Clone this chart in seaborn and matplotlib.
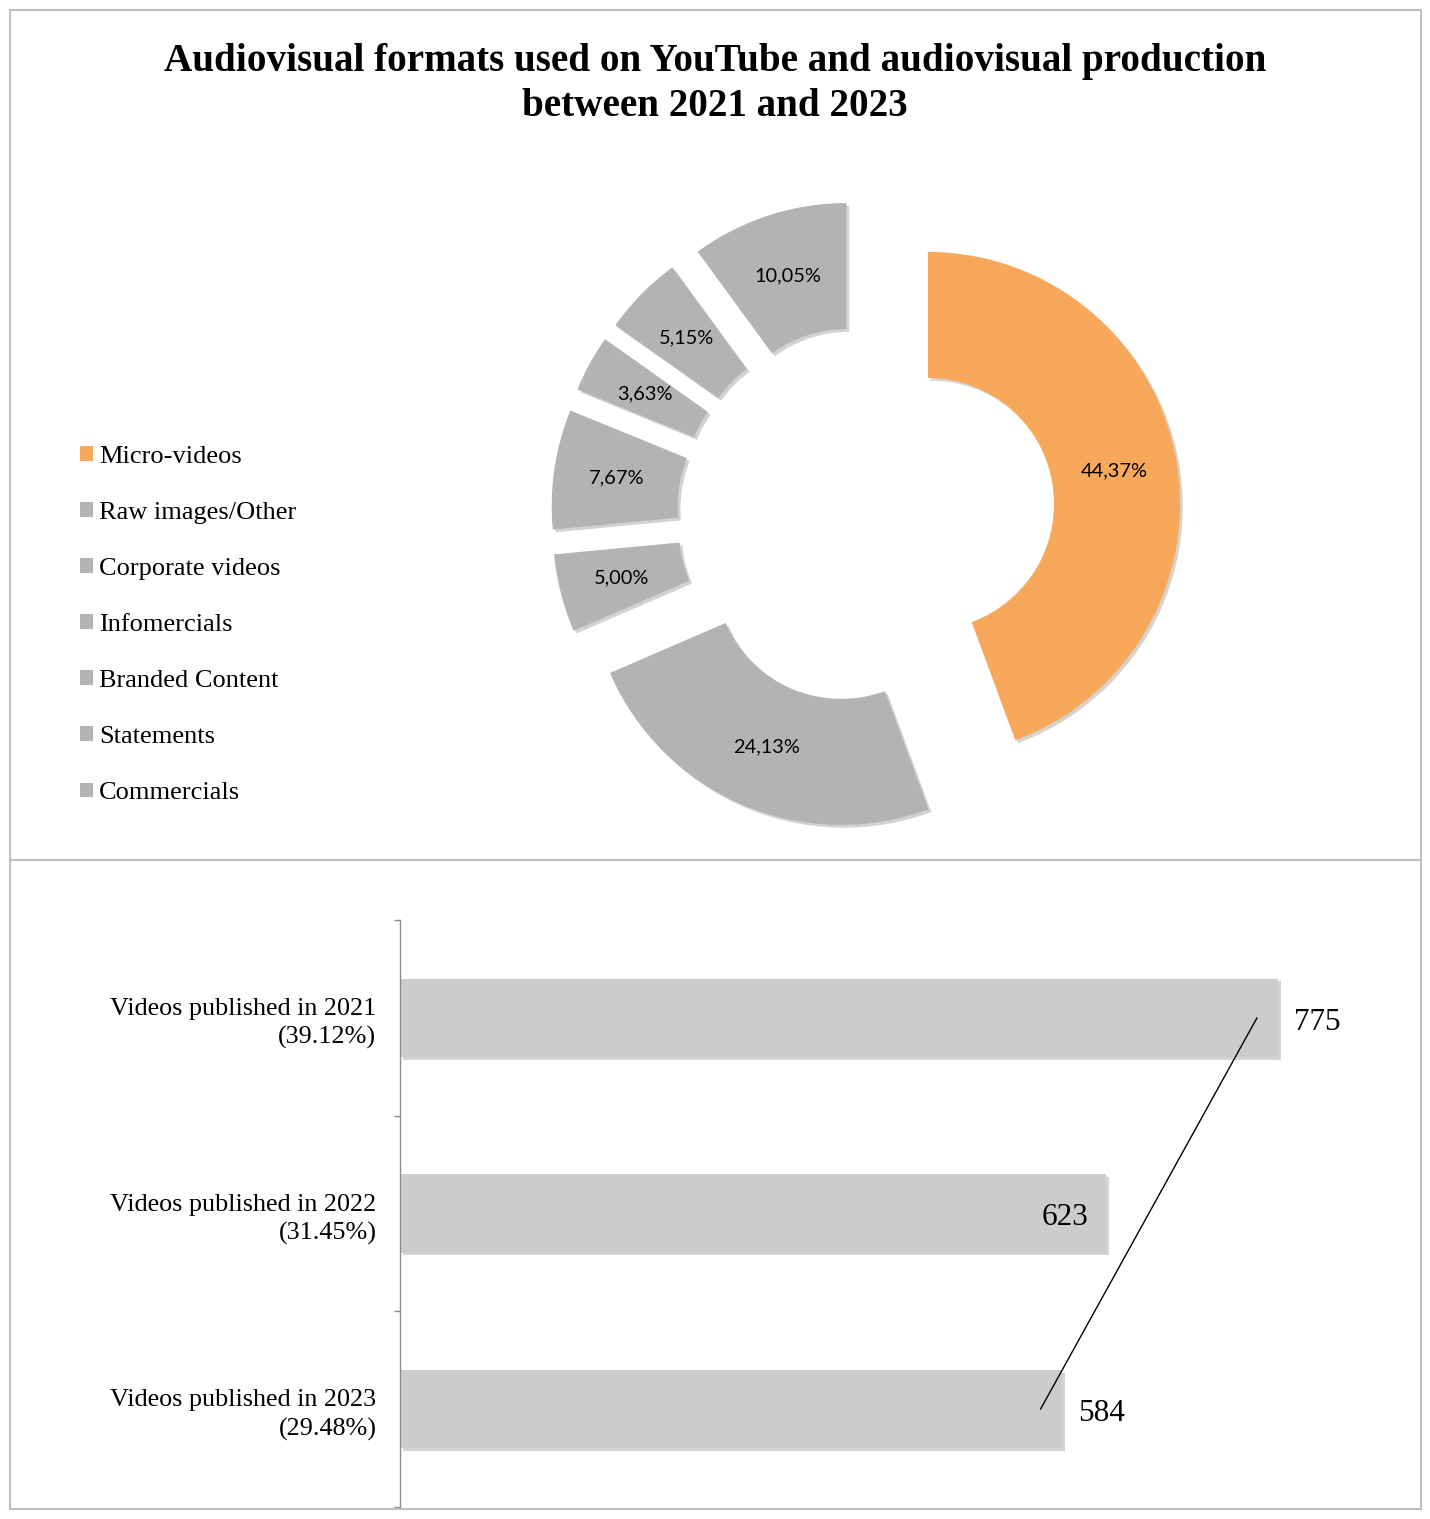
import numpy as np
import matplotlib
matplotlib.use("Agg")
import matplotlib.pyplot as plt
import matplotlib.patheffects as pe
from matplotlib.patches import Patch, Rectangle
import pandas as pd
import seaborn as sns

# Formati (donut)
formats = ["Micro-videos", "Raw images/Other", "Corporate videos", "Infomercials",
           "Branded Content", "Statements", "Commercials"]
format_share = [44.37, 24.13, 5.00, 7.67, 3.63, 5.15, 10.05]

# Objavljeni videi po godinama
years = ["2021", "2022", "2023"]
videos = [775, 623, 584]
year_share = ["39.12%", "31.45%", "29.48%"]

sns.set_theme(style="white")
plt.rcParams["font.family"] = ["Liberation Serif", "DejaVu Serif"]
plt.rcParams["text.color"] = "black"
plt.rcParams["ytick.color"] = "black"
plt.rcParams["xtick.color"] = "black"

W, H = 1430, 1519
fig = plt.figure(figsize=(W / 100, H / 100), dpi=100)

orange = "#f8a85b"
grey = "#b3b3b3"
colors = [orange] + [grey] * (len(formats) - 1)
shadow = [pe.SimplePatchShadow(offset=(2, -2), alpha=0.22), pe.Normal()]

# Donut - centar (866, 515) px, radijus 252 px
cx, cy, R, S = 866, 515, 252, 300
ax1 = fig.add_axes([(cx - S) / W, (H - cy - S) / H, 2 * S / W, 2 * S / H])
wedges, texts, autotexts = ax1.pie(
    format_share, colors=colors, startangle=90, counterclock=False,
    explode=[0.25] * len(formats), radius=1, pctdistance=0.75,
    autopct=lambda p: f"{p:.2f}%".replace(".", ","),
    wedgeprops=dict(width=0.5, linewidth=0),
    textprops=dict(family="Lato", fontsize=14.4, color="black"))
for w in wedges:
    w.set_path_effects(shadow)
lim = S / R
ax1.set_xlim(-lim, lim)
ax1.set_ylim(-lim, lim)
ax1.set_aspect("equal")

handles = [Patch(facecolor=c, edgecolor="none") for c in colors]
fig.legend(handles, formats, loc="upper left", bbox_to_anchor=(80 / W, 1 - 446 / H),
           frameon=False, fontsize=19, handlelength=0.48, handleheight=0.48,
           handletextpad=0.25, labelspacing=1.29, borderpad=0, borderaxespad=0)

# Bar chart
df = pd.DataFrame({
    "label": [f"Videos published in {y}\n({s})" for y, s in zip(years, year_share)],
    "videos": videos,
})
ax2 = fig.add_axes([400 / W, (H - 1507) / H, 1020 / W, 587 / H])
sns.barplot(data=df, x="videos", y="label", orient="h", color="#cccccc",
            saturation=1, width=0.4, errorbar=None, linewidth=0, ax=ax2)
for bar in ax2.patches:
    bar.set_path_effects(shadow)
ax2.set_xlim(0, 900)
ax2.set_ylim(2.5, -0.5)
ax2.set_xticks([])
ax2.set_xlabel("")
ax2.set_ylabel("")
for s in ["top", "right", "bottom"]:
    ax2.spines[s].set_visible(False)
ax2.spines["left"].set_color("#8c8c8c")
ax2.spines["left"].set_linewidth(1)
ax2.tick_params(axis="y", which="major", length=0, pad=17, labelsize=18.8)
for t in ax2.get_yticklabels():
    t.set_linespacing(1.35)
ax2.set_yticks([-0.5, 0.5, 1.5, 2.5], minor=True)
ax2.tick_params(axis="y", which="minor", left=True, length=4.5, width=1, color="#8c8c8c")

# Linearni trend
pos = np.arange(len(videos))
coef = np.polyfit(pos, videos, 1)
ends = pos[[0, -1]]
ax2.plot(np.polyval(coef, ends), ends, color="black", lw=1)

label_side = ["out", "in", "out"]
for i, (v, side) in enumerate(zip(videos, label_side)):
    if side == "out":
        ax2.annotate(str(v), (v, i), xytext=(11.5, -3), textcoords="offset points",
                     ha="left", va="center", fontsize=22.5)
    else:
        ax2.annotate(str(v), (v, i), xytext=(-13, -3), textcoords="offset points",
                     ha="right", va="center", fontsize=22.5)

# Naslov i okviri
fig.text(0.5, 1 - 84 / H,
         "Audiovisual formats used on YouTube and audiovisual production\nbetween 2021 and 2023",
         ha="center", va="center", fontsize=28.2, fontweight="bold", linespacing=1.29)
for y0, y1 in [(10, 860), (860, 1509)]:
    fig.patches.append(Rectangle((10 / W, 1 - y1 / H), 1411 / W, (y1 - y0) / H,
                                 transform=fig.transFigure, fill=False,
                                 edgecolor="#bfbfbf", lw=1.5))

fig.savefig("out.png", dpi=100)
